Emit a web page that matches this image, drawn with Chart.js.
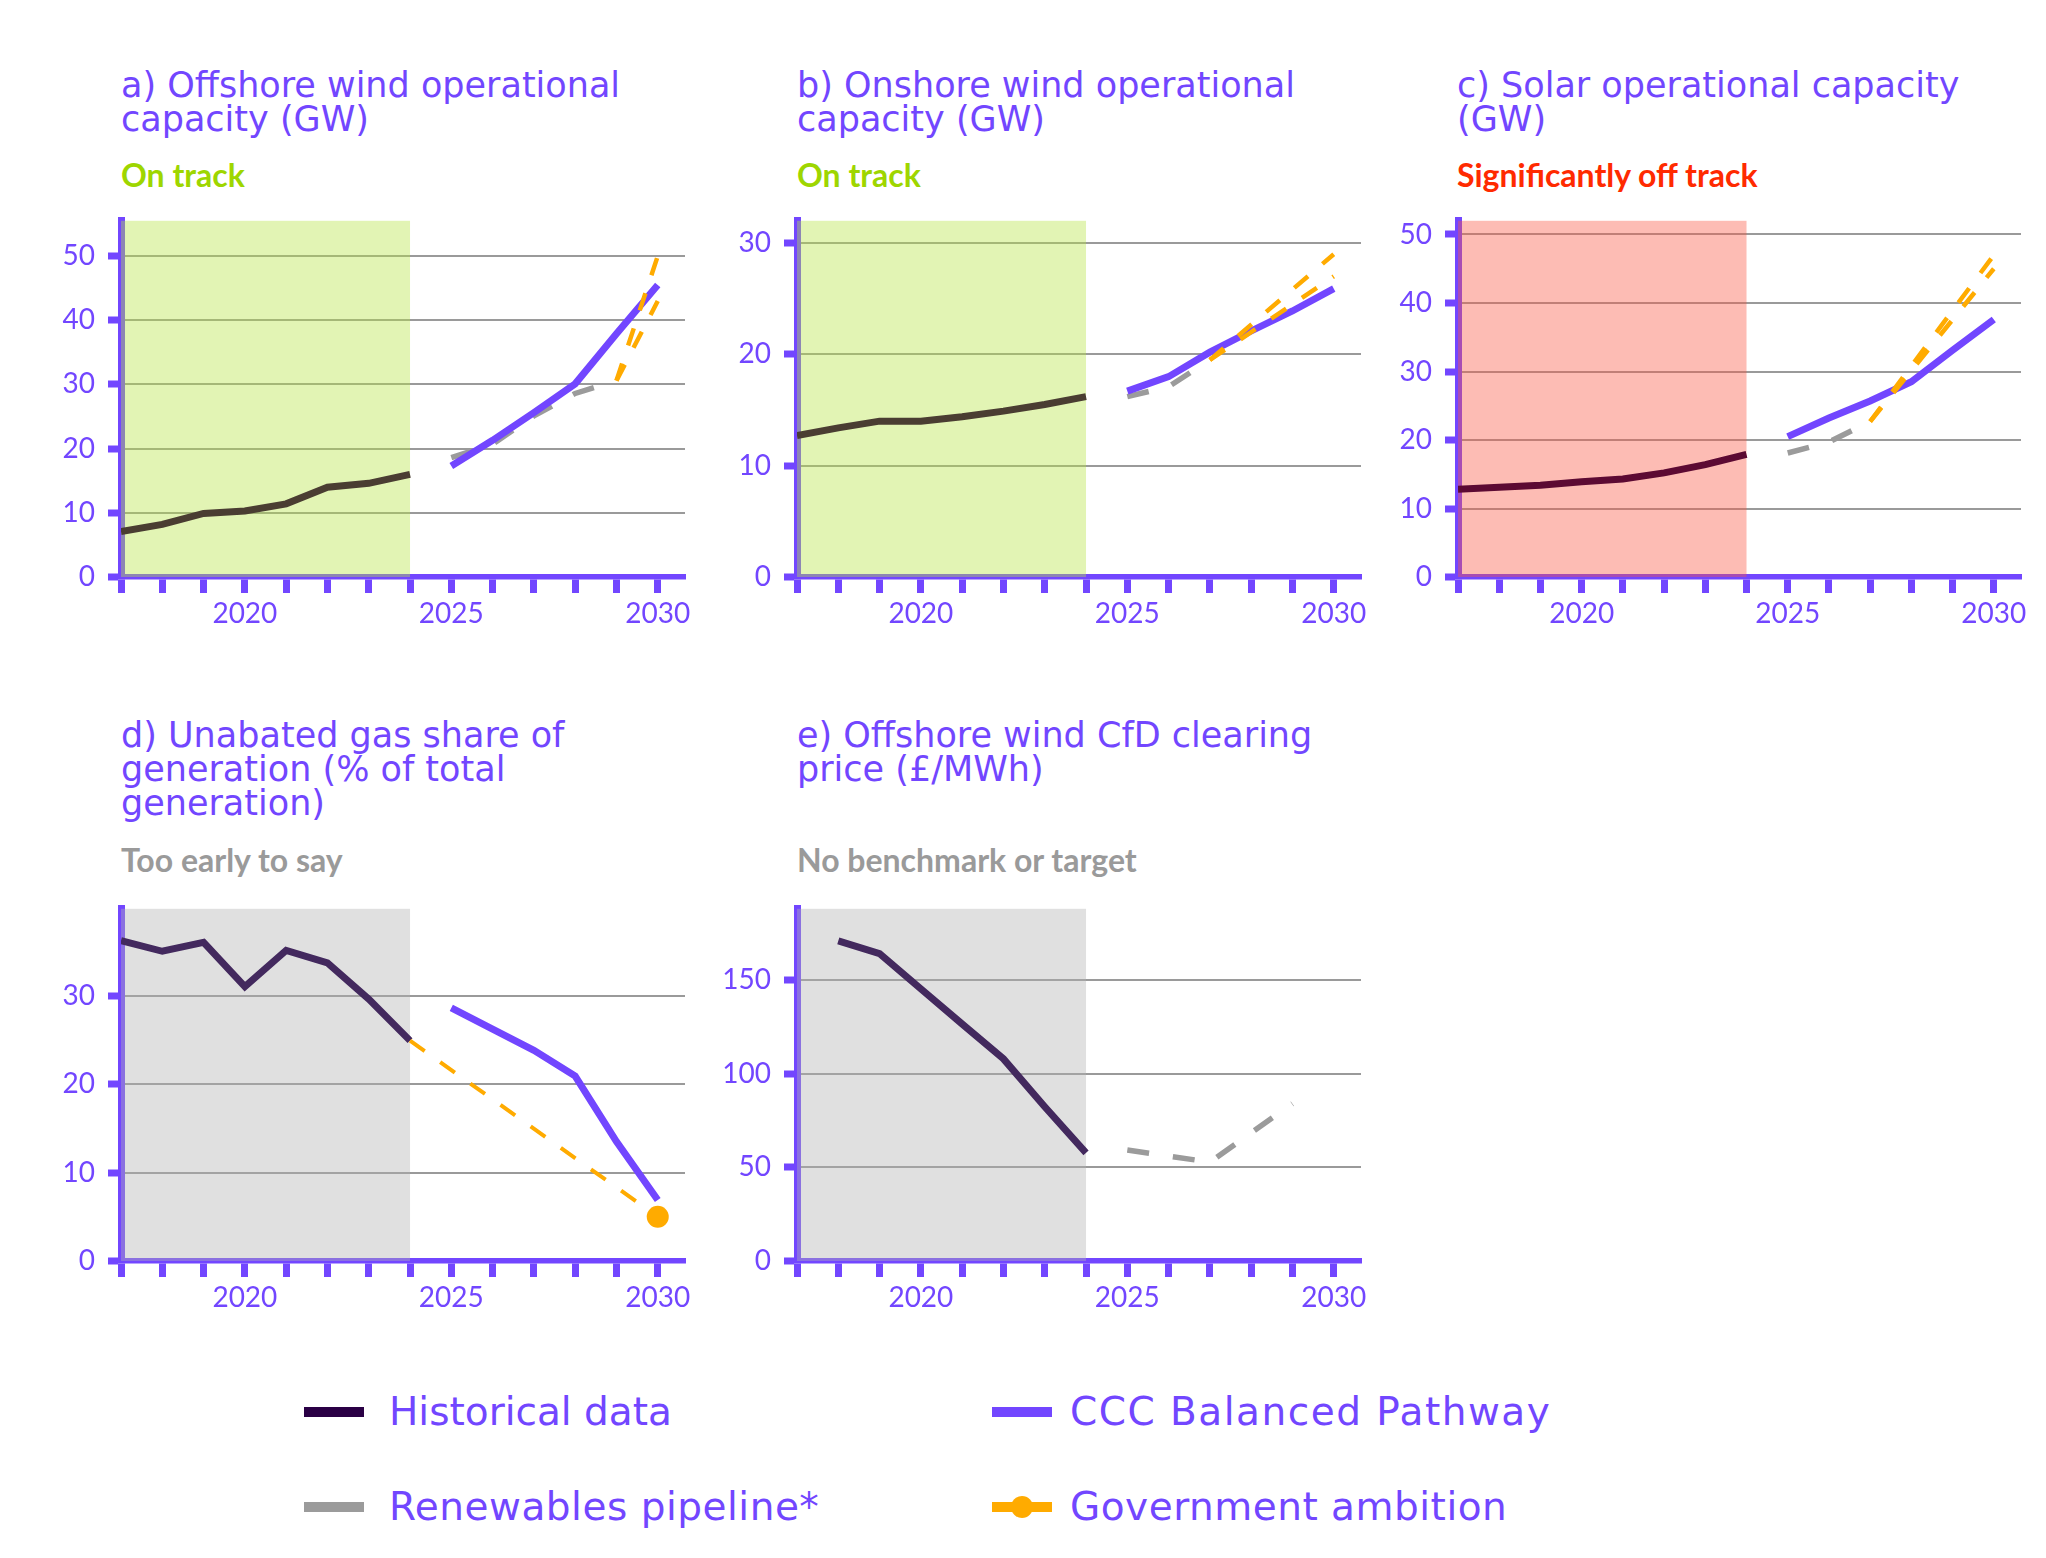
<!DOCTYPE html>
<html>
<head>
<meta charset="utf-8">
<script src="https://cdn.jsdelivr.net/npm/chart.js@4.4.1/dist/chart.umd.min.js"></script>
<style>
  body { margin: 0; background: #fff; width: 2046px; height: 1558px; position: relative; overflow: hidden; font-family: 'DejaVu Sans', sans-serif; }
  canvas { position: absolute; }
  .title { position: absolute; color: #7246ff; font-size: 35px; line-height: 34px; white-space: nowrap; }
  .status { position: absolute; font-family: Lato, sans-serif; font-weight: bold; font-size: 32px; line-height: 32px; white-space: nowrap; }
  .key { position: absolute; height: 10px; width: 60px; }
  .key-text { position: absolute; color: #7246ff; font-size: 39px; line-height: 40px; white-space: nowrap; }
  .dot { position: absolute; width: 22px; height: 22px; border-radius: 50%; background: #ffab00; }
</style>
</head>
<body>

<div class="title" style="left:121px; top:68px">a) Offshore wind operational<br>capacity (GW)</div>
<div class="status" style="left:121px; top:159px; color:#9ed600">On track</div>
<canvas id="chartA"></canvas>

<div class="title" style="left:797px; top:68px">b) Onshore wind operational<br>capacity (GW)</div>
<div class="status" style="left:797px; top:159px; color:#9ed600">On track</div>
<canvas id="chartB"></canvas>

<div class="title" style="left:1457px; top:68px">c) Solar operational capacity<br>(GW)</div>
<div class="status" style="left:1457px; top:159px; color:#ff2a00">Significantly off track</div>
<canvas id="chartC"></canvas>

<div class="title" style="left:121px; top:718px">d) Unabated gas share of<br>generation (% of total<br>generation)</div>
<div class="status" style="left:121px; top:844px; color:#9a9a9a">Too early to say</div>
<canvas id="chartD"></canvas>

<div class="title" style="left:797px; top:718px">e) Offshore wind CfD clearing<br>price (£/MWh)</div>
<div class="status" style="left:797px; top:844px; color:#9a9a9a">No benchmark or target</div>
<canvas id="chartE"></canvas>

<div class="key" style="left:304px; top:1407px; background:#2a0045"></div>
<div class="key-text" style="left:389px; top:1392px">Historical data</div>
<div class="key" style="left:992px; top:1407px; background:#7246ff"></div>
<div class="key-text" style="left:1070px; top:1392px; letter-spacing:1.5px">CCC Balanced Pathway</div>
<div class="key" style="left:304px; top:1502px; background:#9b9b9b"></div>
<div class="key-text" style="left:389px; top:1487px; letter-spacing:0.5px">Renewables pipeline*</div>
<div class="key" style="left:992px; top:1502px; background:#ffab00"></div>
<div class="dot" style="left:1011px; top:1496px"></div>
<div class="key-text" style="left:1070px; top:1487px; letter-spacing:0.5px">Government ambition</div>

<script>
Chart.defaults.font.family = "Lato, sans-serif";
Chart.defaults.color = '#7246ff';

const PURPLE = '#7246ff';
const GREY = '#9b9b9b';
const ORANGE = '#ffab00';

const histYears = [2017, 2018, 2019, 2020, 2021, 2022, 2023, 2024];
const pathYears = [2025, 2026, 2027, 2028, 2029, 2030];
const xTickLabels = [2020, 2025, 2030];

// a) offshore wind, GW
const offshoreHistorical = [7.1, 8.2, 9.9, 10.3, 11.4, 14.0, 14.6, 16.0];
const offshorePathway = [17.3, 21.3, 25.6, 30.1, 37.9, 45.5];
const offshorePipelineYears = [2025, 2026, 2027, 2028, 2029];
const offshorePipeline = [18.6, 20.7, 25.1, 28.6, 30.6];
const offshoreAmbitionYears = [2029, 2030];
const offshoreAmbitionLow = [30.6, 43];
const offshoreAmbitionHigh = [30.6, 50];

// b) onshore wind, GW
const onshoreHistorical = [12.7, 13.4, 14.0, 14.0, 14.4, 14.9, 15.5, 16.2];
const onshorePathway = [16.7, 18.0, 20.2, 22.1, 23.9, 25.9];
const onshorePipelineYears = [2025, 2026, 2027];
const onshorePipeline = [16.2, 17.1, 19.5];
const onshoreAmbitionYears = [2027, 2030];
const onshoreAmbitionLow = [19.5, 27];
const onshoreAmbitionHigh = [19.5, 29];

// c) solar, GW
const solarHistorical = [12.8, 13.1, 13.4, 13.9, 14.3, 15.2, 16.4, 17.9];
const solarPathway = [20.5, 23.2, 25.7, 28.5, 33.1, 37.6];
const solarPipelineYears = [2025, 2026, 2027];
const solarPipeline = [18.1, 19.7, 22.7];
const solarAmbitionYears = [2027, 2030];
const solarAmbitionLow = [22.7, 45];
const solarAmbitionHigh = [22.7, 47];

// d) unabated gas share, %
const gasHistorical = [36.2, 35.0, 36.0, 31.0, 35.1, 33.7, 29.6, 24.9];
const gasPathway = [28.6, 26.2, 23.8, 20.9, 13.5, 6.9];
const gasAmbitionYears = [2024, 2030];
const gasAmbition = [24.9, 5];

// e) offshore wind CfD price, £/MWh
const cfdYears = [2018, 2019, 2020, 2021, 2022, 2023, 2024];
const cfdHistorical = [170.9, 164.1, 145.3, 126.5, 107.9, 82.3, 57.7];
const cfdPipelineYears = [2025, 2026, 2027, 2028, 2029];
const cfdPipeline = [59.2, 56.0, 52.8, 68.4, 84.0];

function pts(xs, ys) {
    return xs.map((x, i) => ({ x: x, y: ys[i] }));
}

function series(data, color, width, dash, order) {
    return {
        data: data,
        borderColor: color,
        backgroundColor: color,
        borderWidth: width,
        borderDash: dash,
        borderCapStyle: 'butt',
        pointRadius: 0,
        tension: 0,
        fill: false,
        order: order
    };
}

// shaded "historical" band, drawn over the grid but under the lines
const shadePlugin = {
    id: 'shade',
    beforeDatasetsDraw(chart, args, opts) {
        const { ctx, chartArea, scales } = chart;
        const x0 = scales.x.getPixelForValue(opts.from);
        const x1 = scales.x.getPixelForValue(opts.to);
        ctx.save();
        ctx.fillStyle = opts.color;
        ctx.fillRect(x0, chartArea.top, x1 - x0, chartArea.bottom - chartArea.top);
        ctx.restore();
    }
};

function makeChart(id, frame, yMax, yStep, shadeColor, datasets) {
    const padL = 100, padT = 20, padR = 40, axisH = 70;
    const canvas = document.getElementById(id);
    canvas.width = frame.right - frame.axisX + padL + padR;
    canvas.height = frame.bottom - frame.top + padT + axisH;
    canvas.style.left = (frame.axisX - padL) + 'px';
    canvas.style.top = (frame.top - padT) + 'px';
    return new Chart(canvas, {
        type: 'line',
        data: { datasets: datasets },
        options: {
            responsive: false,
            animation: false,
            layout: { padding: { top: padT, right: padR, left: 0, bottom: 0 } },
            plugins: {
                legend: { display: false },
                tooltip: { enabled: false },
                shade: { from: 2017, to: 2024, color: shadeColor }
            },
            scales: {
                x: {
                    type: 'linear',
                    min: 2017,
                    max: 2030.66,
                    afterFit: s => { s.height = axisH; },
                    border: { color: PURPLE, width: 5.5 },
                    grid: { drawOnChartArea: false, tickLength: 16, tickWidth: 7, tickColor: PURPLE },
                    ticks: {
                        stepSize: 1,
                        includeBounds: false,
                        autoSkip: false,
                        maxRotation: 0,
                        padding: 4,
                        color: PURPLE,
                        font: { size: 28 },
                        callback: v => xTickLabels.includes(v) ? String(v) : ''
                    }
                },
                y: {
                    min: 0,
                    max: yMax,
                    afterFit: s => { s.width = padL; },
                    border: { color: PURPLE, width: 7 },
                    grid: {
                        color: c => (c.tick && c.tick.value === 0) ? 'rgba(0,0,0,0)' : '#9a9a9a',
                        lineWidth: 2,
                        tickLength: 13,
                        tickWidth: 7,
                        tickColor: PURPLE
                    },
                    ticks: { stepSize: yStep, includeBounds: false, padding: 13, color: PURPLE, font: { size: 28 } }
                }
            }
        },
        plugins: [shadePlugin]
    });
}

const GREEN_SHADE = 'rgba(182,228,68,0.4)';
const RED_SHADE = 'rgba(250,88,68,0.4)';
const GREY_SHADE = 'rgba(178,178,178,0.4)';
const PIPE_DASH = [22, 24];
const GOV_DASH = [18, 19];

makeChart('chartA', { axisX: 121, right: 685, top: 211, bottom: 577 }, 55.5, 10, GREEN_SHADE, [
    series(pts(offshoreAmbitionYears, offshoreAmbitionHigh), ORANGE, 4.5, GOV_DASH, 1),
    series(pts(offshoreAmbitionYears, offshoreAmbitionLow), ORANGE, 4.5, GOV_DASH, 1),
    series(pts(pathYears, offshorePathway), PURPLE, 7, [], 2),
    series(pts(offshorePipelineYears, offshorePipeline), GREY, 5.5, PIPE_DASH, 3),
    series(pts(histYears, offshoreHistorical), '#4a3d32', 7, [], 4)
]);

makeChart('chartB', { axisX: 797, right: 1361, top: 211, bottom: 577 }, 32, 10, GREEN_SHADE, [
    series(pts(onshoreAmbitionYears, onshoreAmbitionHigh), ORANGE, 4.5, GOV_DASH, 1),
    series(pts(onshoreAmbitionYears, onshoreAmbitionLow), ORANGE, 4.5, GOV_DASH, 1),
    series(pts(pathYears, onshorePathway), PURPLE, 7, [], 2),
    series(pts(onshorePipelineYears, onshorePipeline), GREY, 5.5, PIPE_DASH, 3),
    series(pts(histYears, onshoreHistorical), '#4a3d32', 7, [], 4)
]);

makeChart('chartC', { axisX: 1458, right: 2021, top: 211, bottom: 577 }, 52, 10, RED_SHADE, [
    series(pts(solarAmbitionYears, solarAmbitionHigh), ORANGE, 4.5, GOV_DASH, 1),
    series(pts(solarAmbitionYears, solarAmbitionLow), ORANGE, 4.5, GOV_DASH, 1),
    series(pts(pathYears, solarPathway), PURPLE, 7, [], 2),
    series(pts(solarPipelineYears, solarPipeline), GREY, 5.5, PIPE_DASH, 3),
    series(pts(histYears, solarHistorical), '#5c0a33', 7, [], 4)
]);

const gasTarget = series(pts(gasAmbitionYears, gasAmbition), ORANGE, 4, GOV_DASH, 1);
gasTarget.pointRadius = c => c.dataIndex === gasAmbition.length - 1 ? 11 : 0;
gasTarget.pointBorderWidth = 0;
gasTarget.pointBackgroundColor = ORANGE;

makeChart('chartD', { axisX: 121, right: 685, top: 899, bottom: 1261 }, 39.8, 10, GREY_SHADE, [
    gasTarget,
    series(pts(pathYears, gasPathway), PURPLE, 7, [], 2),
    series(pts(histYears, gasHistorical), '#43295e', 7, [], 4)
]);

makeChart('chartE', { axisX: 797, right: 1361, top: 899, bottom: 1261 }, 188, 50, GREY_SHADE, [
    series(pts(cfdPipelineYears, cfdPipeline), GREY, 5.5, PIPE_DASH, 3),
    series(pts(cfdYears, cfdHistorical), '#43295e', 7, [], 4)
]);
</script>
</body>
</html>
